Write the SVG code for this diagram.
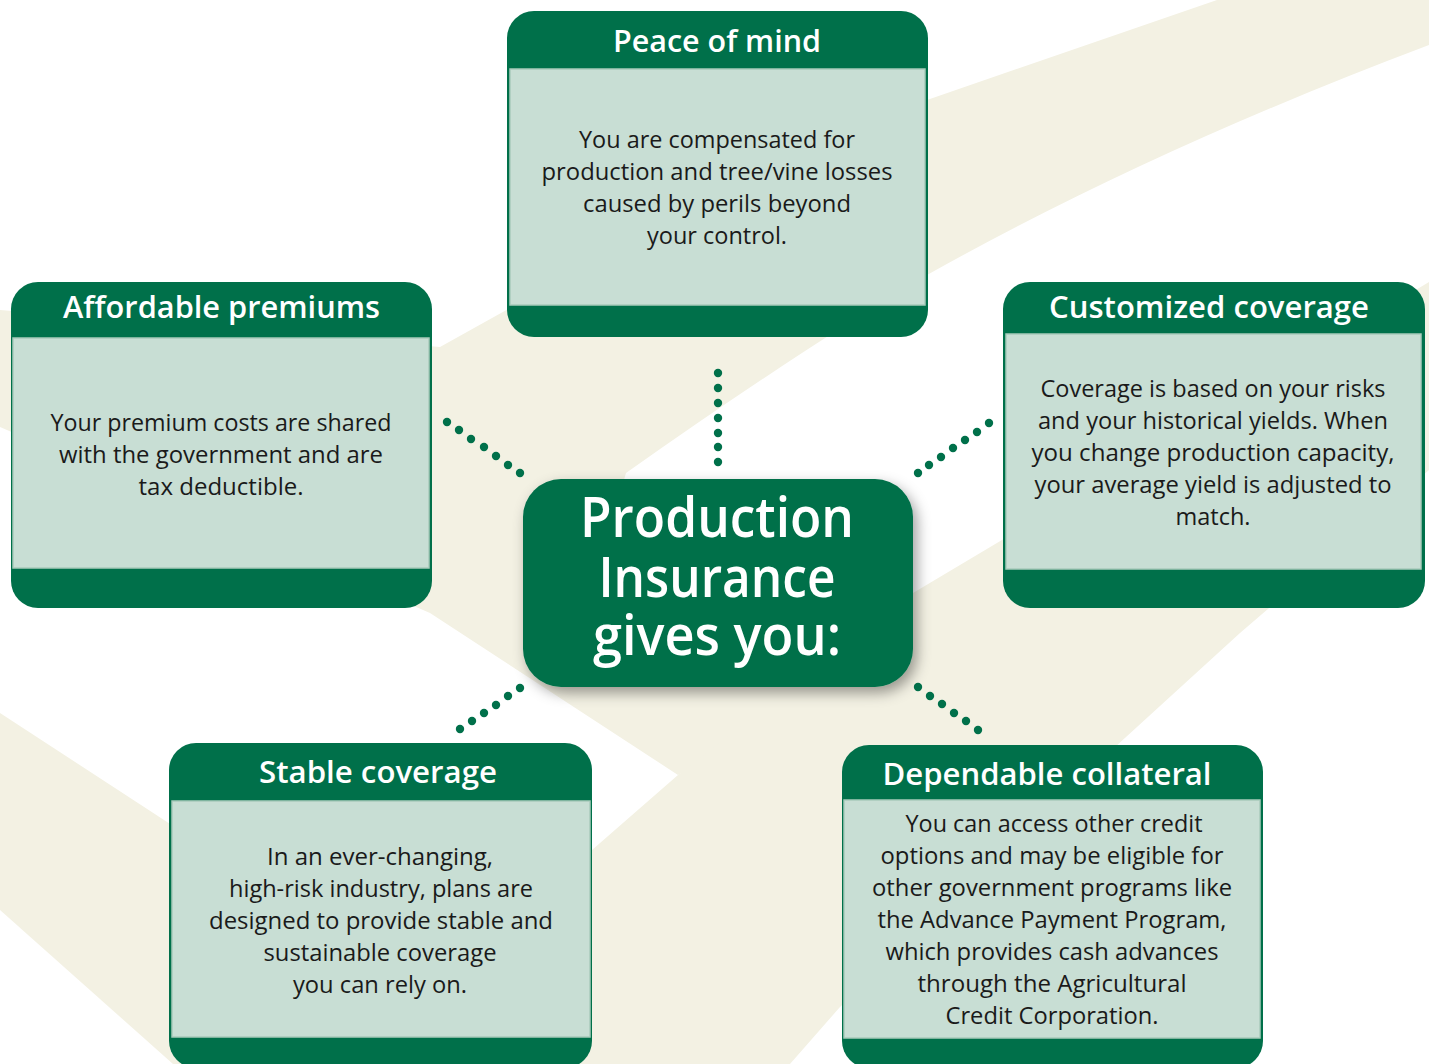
<svg xmlns="http://www.w3.org/2000/svg" width="1429" height="1064" viewBox="0 0 1429 1064">
  <defs>
    <style>
      .swoosh { fill: #f3f1e3; }
      .frame { fill: #00704a; }
      .panel { fill: #c8ded4; stroke: #a8cabb; stroke-width: 1.5; }
      .title { font-family: "Open Sans", "Noto Sans", sans-serif; font-weight: 600; font-size: 30px; fill: #ffffff; text-anchor: middle; }
      .body { font-family: "Open Sans", "Noto Sans", sans-serif; font-weight: 400; font-size: 23px; fill: #1a1a1a; text-anchor: middle; }
      .hub-text { font-family: "Open Sans", "Noto Sans", sans-serif; font-weight: 600; font-size: 56px; fill: #ffffff; text-anchor: middle; }
      .dot { fill: #00704a; }
    </style>
    <filter id="hubShadow" x="-20%" y="-20%" width="140%" height="150%">
      <feDropShadow dx="4" dy="6" stdDeviation="7" flood-color="#000000" flood-opacity="0.38"/>
    </filter>
  </defs>

  <rect width="1429" height="1064" fill="#ffffff"/>

  <!-- cream background swooshes -->
  <g id="background">
    <path class="swoosh" d="M1217,0 L1429,0 L1429,45 Q1150,150 927,275 Q800,350 626,473 L600,560 L820,600 L820,690 L678,775 L430,613 L0,427 L0,310 L440,347 L510,308 L927,100 Z"/>
    <path class="swoosh" d="M1429,282 L1007,537 L913,593 L678,775 L592,850 L340,1064 L790,1064 L840,1007 L1000,852 L1240,633 L1429,470 Z"/>
    <path class="swoosh" d="M0,713 L440,1000 L440,1064 L173,1064 L0,910 Z"/>
  </g>

  <!-- dotted connectors from the hub -->
  <g id="connectors">
    <g id="conn-top">
      <circle class="dot" cx="718" cy="373" r="4.2"/>
      <circle class="dot" cx="718" cy="388" r="4.2"/>
      <circle class="dot" cx="718" cy="403" r="4.2"/>
      <circle class="dot" cx="718" cy="418" r="4.2"/>
      <circle class="dot" cx="718" cy="433" r="4.2"/>
      <circle class="dot" cx="718" cy="447" r="4.2"/>
      <circle class="dot" cx="718" cy="462" r="4.2"/>
    </g>
    <g id="conn-upper-left">
      <circle class="dot" cx="447" cy="422" r="4.2"/>
      <circle class="dot" cx="459" cy="430" r="4.2"/>
      <circle class="dot" cx="471" cy="439" r="4.2"/>
      <circle class="dot" cx="484" cy="447" r="4.2"/>
      <circle class="dot" cx="496" cy="456" r="4.2"/>
      <circle class="dot" cx="508" cy="465" r="4.2"/>
      <circle class="dot" cx="520" cy="473" r="4.2"/>
    </g>
    <g id="conn-upper-right">
      <circle class="dot" cx="918" cy="473" r="4.2"/>
      <circle class="dot" cx="929" cy="465" r="4.2"/>
      <circle class="dot" cx="941" cy="457" r="4.2"/>
      <circle class="dot" cx="953" cy="448" r="4.2"/>
      <circle class="dot" cx="965" cy="440" r="4.2"/>
      <circle class="dot" cx="977" cy="432" r="4.2"/>
      <circle class="dot" cx="989" cy="423" r="4.2"/>
    </g>
    <g id="conn-lower-left">
      <circle class="dot" cx="520" cy="688" r="4.2"/>
      <circle class="dot" cx="508" cy="696" r="4.2"/>
      <circle class="dot" cx="496" cy="705" r="4.2"/>
      <circle class="dot" cx="484" cy="713" r="4.2"/>
      <circle class="dot" cx="472" cy="721" r="4.2"/>
      <circle class="dot" cx="460" cy="729" r="4.2"/>
    </g>
    <g id="conn-lower-right">
      <circle class="dot" cx="918" cy="687" r="4.2"/>
      <circle class="dot" cx="930" cy="696" r="4.2"/>
      <circle class="dot" cx="942" cy="704" r="4.2"/>
      <circle class="dot" cx="954" cy="713" r="4.2"/>
      <circle class="dot" cx="966" cy="721" r="4.2"/>
      <circle class="dot" cx="978" cy="730" r="4.2"/>
    </g>
  </g>

  <!-- hub -->
  <g id="hub">
    <rect class="frame" x="523" y="479" width="390" height="208" rx="38" filter="url(#hubShadow)"/>
    <text class="hub-text" x="717" y="537" textLength="274" lengthAdjust="spacingAndGlyphs">Production</text>
    <text class="hub-text" x="717" y="597" textLength="237" lengthAdjust="spacingAndGlyphs">Insurance</text>
    <text class="hub-text" x="717" y="655" textLength="248" lengthAdjust="spacingAndGlyphs">gives you:</text>
  </g>

  <!-- Peace of mind -->
  <g id="node-peace">
    <rect class="frame" x="507" y="11" width="421" height="326" rx="27"/>
    <rect class="panel" x="510" y="69" width="415" height="236"/>
    <text class="title" x="717" y="52" textLength="208" lengthAdjust="spacingAndGlyphs">Peace of mind</text>
    <text class="body" x="717" y="148" textLength="276" lengthAdjust="spacingAndGlyphs">You are compensated for</text>
    <text class="body" x="717" y="180" textLength="351" lengthAdjust="spacingAndGlyphs">production and tree/vine losses</text>
    <text class="body" x="717" y="212" textLength="268" lengthAdjust="spacingAndGlyphs">caused by perils beyond</text>
    <text class="body" x="717" y="244" textLength="140" lengthAdjust="spacingAndGlyphs">your control.</text>
  </g>

  <!-- Affordable premiums -->
  <g id="node-affordable">
    <rect class="frame" x="11" y="282" width="421" height="326" rx="27"/>
    <rect class="panel" x="13" y="338" width="416" height="230"/>
    <text class="title" x="221.5" y="318" textLength="317" lengthAdjust="spacingAndGlyphs">Affordable premiums</text>
    <text class="body" x="221" y="431" textLength="341" lengthAdjust="spacingAndGlyphs">Your premium costs are shared</text>
    <text class="body" x="221" y="463" textLength="324" lengthAdjust="spacingAndGlyphs">with the government and are</text>
    <text class="body" x="221" y="495" textLength="165" lengthAdjust="spacingAndGlyphs">tax deductible.</text>
  </g>

  <!-- Customized coverage -->
  <g id="node-customized">
    <rect class="frame" x="1003" y="282" width="422" height="326" rx="27"/>
    <rect class="panel" x="1006" y="334" width="415" height="235"/>
    <text class="title" x="1209" y="318" textLength="320" lengthAdjust="spacingAndGlyphs">Customized coverage</text>
    <text class="body" x="1213" y="397" textLength="345" lengthAdjust="spacingAndGlyphs">Coverage is based on your risks</text>
    <text class="body" x="1213" y="429" textLength="350" lengthAdjust="spacingAndGlyphs">and your historical yields. When</text>
    <text class="body" x="1213" y="461" textLength="363" lengthAdjust="spacingAndGlyphs">you change production capacity,</text>
    <text class="body" x="1213" y="493" textLength="357" lengthAdjust="spacingAndGlyphs">your average yield is adjusted to</text>
    <text class="body" x="1213" y="525" textLength="75" lengthAdjust="spacingAndGlyphs">match.</text>
  </g>

  <!-- Stable coverage -->
  <g id="node-stable">
    <rect class="frame" x="169" y="743" width="423" height="325" rx="27"/>
    <rect class="panel" x="172" y="801" width="418" height="236"/>
    <text class="title" x="378" y="783" textLength="238" lengthAdjust="spacingAndGlyphs">Stable coverage</text>
    <text class="body" x="380" y="865" textLength="226" lengthAdjust="spacingAndGlyphs">In an ever-changing,</text>
    <text class="body" x="381" y="897" textLength="304" lengthAdjust="spacingAndGlyphs">high-risk industry, plans are</text>
    <text class="body" x="381" y="929" textLength="344" lengthAdjust="spacingAndGlyphs">designed to provide stable and</text>
    <text class="body" x="380" y="961" textLength="233" lengthAdjust="spacingAndGlyphs">sustainable coverage</text>
    <text class="body" x="380" y="993" textLength="174" lengthAdjust="spacingAndGlyphs">you can rely on.</text>
  </g>

  <!-- Dependable collateral -->
  <g id="node-dependable">
    <rect class="frame" x="842" y="745" width="421" height="323" rx="27"/>
    <rect class="panel" x="844" y="800" width="416" height="238"/>
    <text class="title" x="1047" y="785" textLength="329" lengthAdjust="spacingAndGlyphs">Dependable collateral</text>
    <text class="body" x="1054" y="832" textLength="297" lengthAdjust="spacingAndGlyphs">You can access other credit</text>
    <text class="body" x="1052" y="864" textLength="343" lengthAdjust="spacingAndGlyphs">options and may be eligible for</text>
    <text class="body" x="1052" y="896" textLength="360" lengthAdjust="spacingAndGlyphs">other government programs like</text>
    <text class="body" x="1052" y="928" textLength="349" lengthAdjust="spacingAndGlyphs">the Advance Payment Program,</text>
    <text class="body" x="1052" y="960" textLength="333" lengthAdjust="spacingAndGlyphs">which provides cash advances</text>
    <text class="body" x="1052" y="992" textLength="269" lengthAdjust="spacingAndGlyphs">through the Agricultural</text>
    <text class="body" x="1052" y="1024" textLength="213" lengthAdjust="spacingAndGlyphs">Credit Corporation.</text>
  </g>
</svg>
